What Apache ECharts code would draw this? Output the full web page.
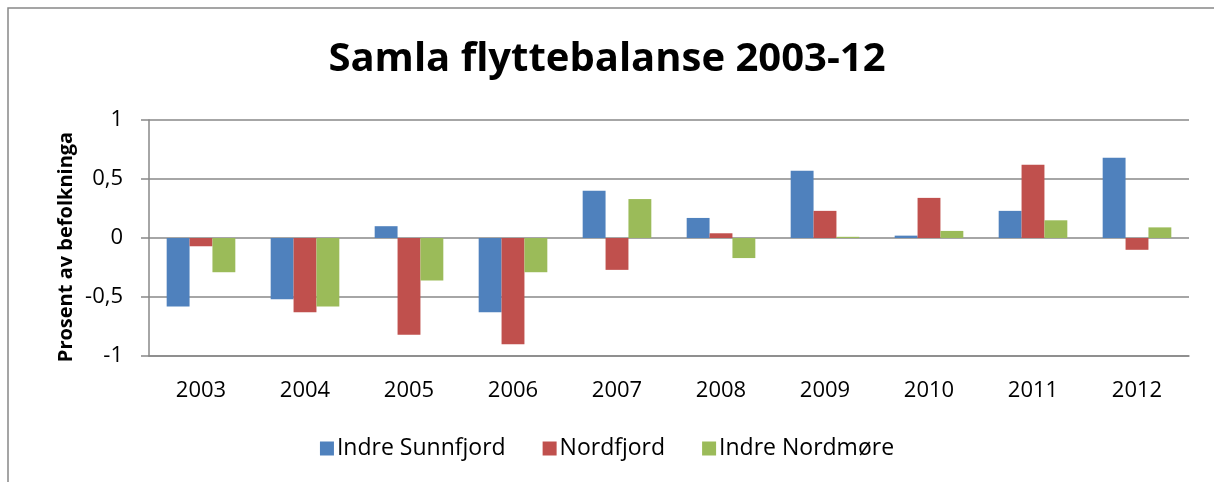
<!DOCTYPE html>
<html>
<head>
<meta charset="utf-8">
<script src="https://cdn.jsdelivr.net/npm/echarts@6/dist/echarts.min.js"></script>
<style>
  html, body { margin: 0; padding: 0; background: #fff; }
  #chart { width: 1214px; height: 482px; }
</style>
</head>
<body>
<div id="chart"></div>
<script>
const years = ['2003', '2004', '2005', '2006', '2007', '2008', '2009', '2010', '2011', '2012']
const indreSunnfjord = [-0.58, -0.52, 0.10, -0.63, 0.40, 0.17, 0.57, 0.02, 0.23, 0.68]
const nordfjord = [-0.07, -0.63, -0.82, -0.90, -0.27, 0.04, 0.23, 0.34, 0.62, -0.10]
const indreNordmore = [-0.29, -0.58, -0.36, -0.29, 0.33, -0.17, 0.01, 0.06, 0.15, 0.09]

const font = '"Open Sans", Lato, sans-serif'
const gridColor = '#888888'

const chart = echarts.init(document.getElementById('chart'))
const option = {
  backgroundColor: '#ffffff',
  animation: false,
  title: {
    text: 'Samla flyttebalanse 2003-12',
    left: 'center',
    top: 35,
    textStyle: {
      fontFamily: font,
      fontSize: 40,
      fontWeight: 'bold',
      color: '#000',
    },
  },
  legend: {
    bottom: 17,
    left: 'center',
    itemWidth: 14,
    itemHeight: 14,
    itemGap: 37,
    icon: 'rect',
    textStyle: {
      fontFamily: font,
      fontSize: 23,
      color: '#000',
      padding: [0, 0, 0, -2],
    },
    data: ['Indre Sunnfjord', 'Nordfjord', 'Indre Nordmøre'],
  },
  grid: {
    left: 149,
    right: 25,
    top: 120,
    bottom: 126,
  },
  xAxis: {
    type: 'category',
    data: years,
    axisLine: { onZero: false, lineStyle: { color: gridColor, width: 1.5 } },
    axisTick: { show: false },
    axisLabel: {
      margin: 24,
      fontFamily: font,
      fontSize: 22,
      color: '#000',
    },
  },
  yAxis: {
    type: 'value',
    min: -1,
    max: 1,
    interval: 0.5,
    axisLine: { show: true, lineStyle: { color: gridColor, width: 1.5 } },
    axisTick: { show: true, length: 8, lineStyle: { color: gridColor, width: 1.5 } },
    splitLine: { lineStyle: { color: gridColor, width: 1.5 } },
    axisLabel: {
      margin: 26,
      fontFamily: font,
      fontSize: 22,
      color: '#000',
      formatter: (v) => String(v).replace('.', ','),
    },
  },
  graphic: [
    {
      type: 'rect',
      shape: { x: 8, y: 8, width: 1240, height: 520 },
      style: { fill: 'none', stroke: '#888888', lineWidth: 1.5 },
      silent: true,
    },
    {
      type: 'text',
      x: 66,
      y: 247,
      rotation: Math.PI / 2,
      style: {
        text: 'Prosent av befolkninga',
        fontFamily: font,
        fontSize: 20,
        fontWeight: 'bold',
        fill: '#000',
        align: 'center',
        verticalAlign: 'middle',
      },
    },
  ],
  series: [
    {
      name: 'Indre Sunnfjord',
      type: 'bar',
      data: indreSunnfjord,
      barGap: '0%',
      barCategoryGap: '34%',
      itemStyle: { color: '#4F81BD' },
    },
    {
      name: 'Nordfjord',
      type: 'bar',
      data: nordfjord,
      itemStyle: { color: '#C0504D' },
    },
    {
      name: 'Indre Nordmøre',
      type: 'bar',
      data: indreNordmore,
      itemStyle: { color: '#9BBB59' },
    },
  ],
}
chart.setOption(option)
</script>
</body>
</html>
